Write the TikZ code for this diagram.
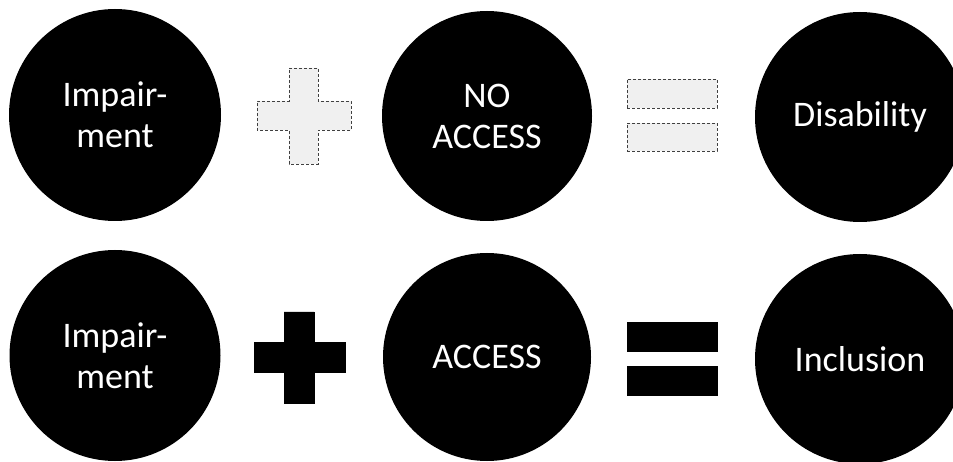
\documentclass[tikz,border=0pt]{standalone}
\usepackage{fontspec}
\setmainfont{Carlito}
\begin{document}
\begin{tikzpicture}[x=1pt,y=-1pt,
  disc/.style={circle, fill=black, inner sep=0pt, minimum size=#1, text=white,
    align=center, font=\fontsize{36}{41}\selectfont},
  disc/.default=211pt,
  lightsym/.style={fill=black!6, draw=black!75, line width=0.9pt, densely dashed},
  darksym/.style={fill=black, draw=black, line width=0.4pt},
  bar/.style={rectangle, inner sep=0pt, minimum width=90pt, minimum height=29pt}]
\useasboundingbox (0,0) rectangle (953,462);
\clip (0,0) rectangle (953,462);
% top row
\node[disc=212pt] (imp1) at (115,115) {Impair-\\ment};
\node[disc=210pt] (noacc) at (487,116) {NO\\ACCESS};
\node[disc=210pt] (dis) at (860,117) {Disability};
\path[lightsym] (289,68) -- (318,68) -- (318,101) -- (351,101) -- (351,130)
  -- (318,130) -- (318,164) -- (289,164) -- (289,130) -- (257,130)
  -- (257,101) -- (289,101) -- cycle;
\node[bar, lightsym] (eq1a) at (672,93.5) {};
\node[bar, lightsym, minimum height=28pt] (eq1b) at (672,137) {};
% bottom row
\node[disc=211pt] (imp2) at (115,355.5) {Impair-\\ment};
\node[disc=208pt] (acc) at (487,357) {ACCESS};
\node[disc=210pt] (inc) at (860,359) {Inclusion};
\path[darksym] (284,312) -- (314,312) -- (314,342) -- (345,342) -- (345,372)
  -- (314,372) -- (314,403) -- (284,403) -- (284,372) -- (254,372)
  -- (254,342) -- (284,342) -- cycle;
\node[bar, darksym] (eq2a) at (672,336.5) {};
\node[bar, darksym] (eq2b) at (672,380.5) {};
\end{tikzpicture}
\end{document}
